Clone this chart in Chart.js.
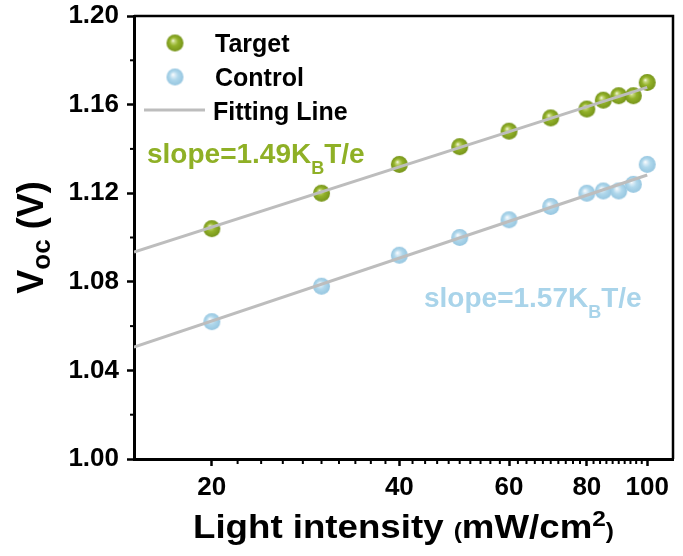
<!DOCTYPE html>
<html>
<head>
<meta charset="utf-8">
<script src="https://cdn.jsdelivr.net/npm/chart.js@4.4.0/dist/chart.umd.min.js"></script>
<style>
    body { margin: 0; background: #fff; }
    #wrap { width: 683px; height: 556px; }
</style>
</head>
<body>
<div id="wrap"><canvas id="vocChart"></canvas></div>
<script>
    // ── Dados ──
    const intensity = [20, 30, 40, 50, 60, 70, 80, 85, 90, 95, 100];
    const vocTarget = [1.104, 1.120, 1.133, 1.141, 1.148, 1.154, 1.158, 1.162, 1.164, 1.164, 1.170];
    const vocControl = [1.062, 1.078, 1.092, 1.100, 1.108, 1.114, 1.120, 1.121, 1.121, 1.124, 1.133];
    const fitX = [15, 100];
    const fitTarget = [1.0934, 1.1678];
    const fitControl = [1.0505, 1.1282];
    const xTicks = [20, 40, 60, 80, 100];
    const xMinorTicks = [22, 24, 26, 28, 30, 32, 34, 36, 38, 42, 44, 46, 48, 50, 52, 54, 56, 58,
                         62, 64, 66, 68, 70, 72, 74, 76, 78, 82, 84, 86, 88, 90, 92, 94, 96, 98];
    const yTicks = [1.00, 1.04, 1.08, 1.12, 1.16, 1.20];
    const yMinorTicks = [1.02, 1.06, 1.10, 1.14, 1.18];

    const FONT = "'Liberation Sans', Arial, sans-serif";
    const GREEN = '#8fb026';
    const BLUE = '#a9d4ea';

    // esfera com brilho, usada como marcador
    function makeBall(stops, r) {
        const c = document.createElement('canvas');
        c.width = c.height = r * 2 + 2;
        const g = c.getContext('2d');
        const cx = r + 1, cy = r + 1;
        const grad = g.createRadialGradient(cx - r * 0.25, cy - r * 0.3, 0, cx, cy, r);
        stops.forEach(s => grad.addColorStop(s[0], s[1]));
        g.fillStyle = grad;
        g.beginPath();
        g.arc(cx, cy, r, 0, Math.PI * 2);
        g.fill();
        return c;
    }
    const greenBall = makeBall([[0, '#fbfdf2'], [0.2, '#c4d67a'], [0.5, '#93b22a'], [1, '#76941a']], 8.5);
    const blueBall = makeBall([[0, '#ffffff'], [0.2, '#dcedf7'], [0.5, '#b0d8ec'], [1, '#96c6e0']], 8.5);

    const pts = (xs, ys) => xs.map((x, i) => ({ x: x, y: ys[i] }));

    // texto com partes (sub/sobrescrito)
    function drawParts(ctx, parts, x, y) {
        parts.forEach(p => {
            ctx.font = `bold ${p.size}px ${FONT}`;
            ctx.fillText(p.t, x, y + (p.dy || 0));
            x += ctx.measureText(p.t).width;
        });
    }
    function partsWidth(ctx, parts) {
        let w = 0;
        parts.forEach(p => { ctx.font = `bold ${p.size}px ${FONT}`; w += ctx.measureText(p.t).width; });
        return w;
    }

    const decor = {
        id: 'decor',
        afterDraw(chart) {
            const ctx = chart.ctx;
            const a = chart.chartArea;
            const xs = chart.scales.x, ys = chart.scales.y;
            ctx.save();
            // moldura
            ctx.strokeStyle = '#000';
            ctx.lineWidth = 2.5;
            ctx.beginPath();
            ctx.moveTo(a.left, a.top); ctx.lineTo(a.right, a.top); ctx.lineTo(a.right, a.bottom);
            ctx.stroke();
            // ticks menores
            ctx.lineWidth = 2;
            xMinorTicks.forEach(v => {
                const px = xs.getPixelForValue(v);
                ctx.beginPath(); ctx.moveTo(px, a.bottom); ctx.lineTo(px, a.bottom + 5); ctx.stroke();
            });
            yMinorTicks.forEach(v => {
                const py = ys.getPixelForValue(v);
                ctx.beginPath(); ctx.moveTo(a.left, py); ctx.lineTo(a.left - 4, py); ctx.stroke();
            });
            // legenda
            ctx.drawImage(greenBall, 175 - greenBall.width / 2, 43 - greenBall.height / 2);
            ctx.drawImage(blueBall, 175 - blueBall.width / 2, 77 - blueBall.height / 2);
            ctx.strokeStyle = '#bdbdbd';
            ctx.lineWidth = 3;
            ctx.beginPath(); ctx.moveTo(144, 110); ctx.lineTo(205, 110); ctx.stroke();
            ctx.fillStyle = '#000';
            ctx.textBaseline = 'alphabetic';
            ctx.textAlign = 'left';
            ctx.font = `bold 25px ${FONT}`;
            ctx.fillText('Target', 215, 52);
            ctx.fillText('Control', 215, 86);
            ctx.fillText('Fitting Line', 213, 120);
            // inclinações
            ctx.fillStyle = GREEN;
            drawParts(ctx, [{ t: 'slope=1.49K', size: 28 }, { t: 'B', size: 18, dy: 11 }, { t: 'T/e', size: 28 }], 147, 163);
            ctx.fillStyle = BLUE;
            drawParts(ctx, [{ t: 'slope=1.57K', size: 28 }, { t: 'B', size: 18, dy: 11 }, { t: 'T/e', size: 28 }], 424, 307);
            // título eixo x (um pouco esticado, como no original)
            ctx.fillStyle = '#000';
            const xt = [{ t: 'Light intensity ', size: 33 }, { t: '(', size: 22 }, { t: 'mW/cm', size: 33 },
                        { t: '2', size: 22, dy: -12 }, { t: ')', size: 22 }];
            const xw = partsWidth(ctx, xt);
            const sx = 421 / xw;
            ctx.save();
            ctx.translate((a.left + a.right) / 2 - 421 / 2, 538);
            ctx.scale(sx, 1);
            drawParts(ctx, xt, 0, 0);
            ctx.restore();
            // título eixo y
            const yt = [{ t: 'V', size: 36 }, { t: 'oc', size: 26, dy: 7 }, { t: ' (V)', size: 36 }];
            ctx.translate(43, (a.top + a.bottom) / 2);
            ctx.rotate(-Math.PI / 2);
            drawParts(ctx, yt, -partsWidth(ctx, yt) / 2, 0);
            ctx.restore();
        }
    };

    new Chart(document.getElementById('vocChart'), {
        type: 'scatter',
        data: {
            datasets: [
                { type: 'line', data: pts(fitX, fitTarget), borderColor: '#bdbdbd', borderWidth: 3, pointRadius: 0, order: 0 },
                { type: 'line', data: pts(fitX, fitControl), borderColor: '#bdbdbd', borderWidth: 3, pointRadius: 0, order: 0 },
                { label: 'Target', data: pts(intensity, vocTarget), pointStyle: greenBall, pointRadius: 9, order: 1 },
                { label: 'Control', data: pts(intensity, vocControl), pointStyle: blueBall, pointRadius: 9, order: 1 }
            ]
        },
        options: {
            responsive: true,
            maintainAspectRatio: false,
            animation: false,
            layout: { padding: { top: 16, right: -1, left: 0, bottom: 0 } },
            plugins: { legend: { display: false }, tooltip: { enabled: false } },
            scales: {
                x: {
                    type: 'logarithmic',
                    min: 15,
                    max: 110,
                    afterBuildTicks: s => { s.ticks = xTicks.map(v => ({ value: v })); },
                    afterFit: s => { s.height = 97; s.paddingLeft = 0; s.paddingRight = 0; },
                    border: { display: true, color: '#000', width: 3 },
                    grid: { drawOnChartArea: false, drawTicks: true, tickLength: 7, tickWidth: 2.5, tickColor: '#000' },
                    ticks: {
                        autoSkip: false, maxRotation: 0, padding: 6, color: '#000',
                        font: { family: FONT, size: 26, weight: 'bold' },
                        callback: v => String(v)
                    }
                },
                y: {
                    min: 1.0,
                    max: 1.2,
                    afterBuildTicks: s => { s.ticks = yTicks.map(v => ({ value: v })); },
                    afterFit: s => { s.width = 134; s.paddingTop = 0; s.paddingBottom = 0; },
                    border: { display: true, color: '#000', width: 3 },
                    grid: { drawOnChartArea: false, drawTicks: true, tickLength: 7, tickWidth: 2.5, tickColor: '#000' },
                    ticks: {
                        padding: 8, color: '#000',
                        font: { family: FONT, size: 26, weight: 'bold' },
                        callback: v => v.toFixed(2)
                    }
                }
            }
        },
        plugins: [decor]
    });
</script>
</body>
</html>
